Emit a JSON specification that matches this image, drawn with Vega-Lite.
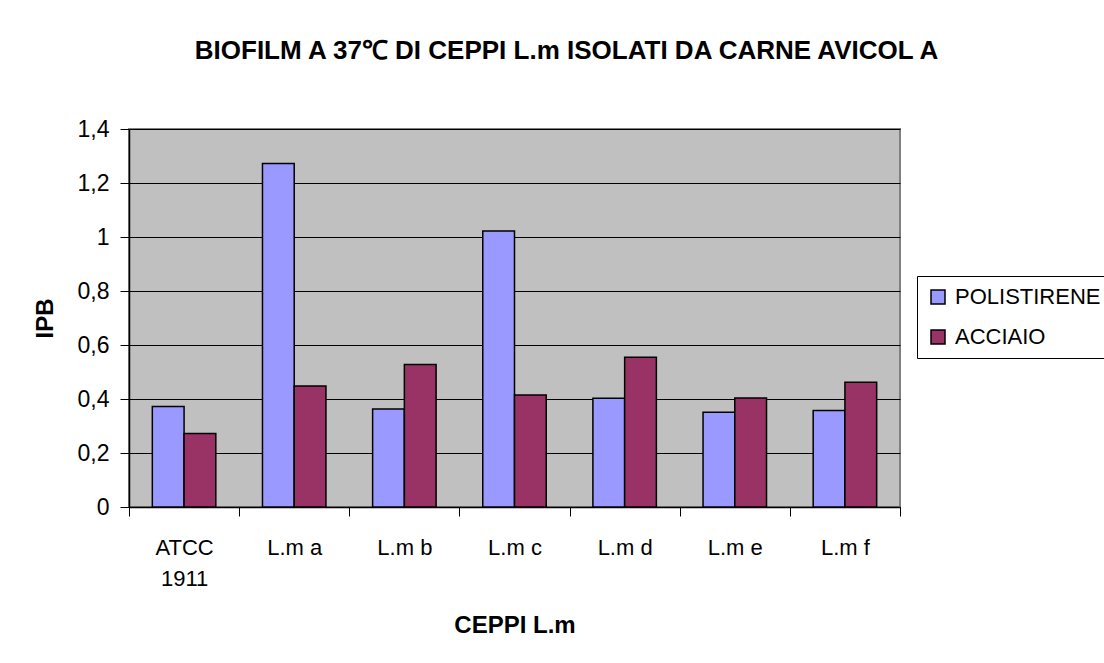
{
  "$schema": "https://vega.github.io/schema/vega-lite/v6.json",
  "width": 771,
  "height": 378,
  "autosize": {"type": "none"},
  "padding": {"left": 129, "top": 129, "right": 204, "bottom": 156},
  "background": "white",
  "title": {
    "text": "BIOFILM A 37℃ DI CEPPI L.m ISOLATI DA CARNE AVICOL A",
    "font": "Liberation Sans",
    "fontSize": 26,
    "fontWeight": "bold",
    "color": "black",
    "anchor": "middle",
    "dx": 52,
    "offset": 54
  },
  "data": {
    "values": [
      {"ceppo": "ATCC 1911", "serie": "POLISTIRENE", "ipb": 0.372},
      {"ceppo": "ATCC 1911", "serie": "ACCIAIO", "ipb": 0.272},
      {"ceppo": "L.m a", "serie": "POLISTIRENE", "ipb": 1.272},
      {"ceppo": "L.m a", "serie": "ACCIAIO", "ipb": 0.448},
      {"ceppo": "L.m b", "serie": "POLISTIRENE", "ipb": 0.363},
      {"ceppo": "L.m b", "serie": "ACCIAIO", "ipb": 0.528},
      {"ceppo": "L.m c", "serie": "POLISTIRENE", "ipb": 1.022},
      {"ceppo": "L.m c", "serie": "ACCIAIO", "ipb": 0.415},
      {"ceppo": "L.m d", "serie": "POLISTIRENE", "ipb": 0.403},
      {"ceppo": "L.m d", "serie": "ACCIAIO", "ipb": 0.555},
      {"ceppo": "L.m e", "serie": "POLISTIRENE", "ipb": 0.351},
      {"ceppo": "L.m e", "serie": "ACCIAIO", "ipb": 0.404},
      {"ceppo": "L.m f", "serie": "POLISTIRENE", "ipb": 0.357},
      {"ceppo": "L.m f", "serie": "ACCIAIO", "ipb": 0.462}
    ]
  },
  "mark": {"type": "bar", "stroke": "black", "strokeWidth": 1.5},
  "encoding": {
    "x": {
      "field": "ceppo",
      "type": "nominal",
      "sort": null,
      "scale": {"paddingInner": 0, "paddingOuter": 0},
      "axis": {
        "title": "CEPPI L.m",
        "titleFont": "Liberation Sans",
        "titleFontSize": 24,
        "titleFontWeight": "bold",
        "titleColor": "black",
        "titlePadding": 24,
        "labelAngle": 0,
        "labelFont": "Liberation Sans",
        "labelFontSize": 22,
        "labelColor": "black",
        "labelPadding": 21,
        "labelLineHeight": 31,
        "labelExpr": "datum.label == 'ATCC 1911' ? ['ATCC', '1911'] : datum.label",
        "tickBand": "extent",
        "tickSize": 9,
        "tickColor": "black",
        "tickWidth": 1,
        "domainColor": "black",
        "domainWidth": 1.5,
        "grid": false
      }
    },
    "xOffset": {
      "field": "serie",
      "type": "nominal",
      "sort": ["POLISTIRENE", "ACCIAIO"],
      "scale": {"paddingInner": 0, "paddingOuter": 0.735}
    },
    "y": {
      "field": "ipb",
      "type": "quantitative",
      "scale": {"domain": [0, 1.4], "nice": false},
      "axis": {
        "title": "IPB",
        "titleFont": "Liberation Sans",
        "titleFontSize": 24,
        "titleFontWeight": "bold",
        "titleColor": "black",
        "titlePadding": 20,
        "values": [0, 0.2, 0.4, 0.6, 0.8, 1, 1.2, 1.4],
        "labelExpr": "replace(format(datum.value, '.1~f'), '.', ',')",
        "labelFont": "Liberation Sans",
        "labelFontSize": 23,
        "labelColor": "black",
        "labelPadding": 11,
        "tickSize": 9,
        "tickColor": "black",
        "domainColor": "black",
        "domainWidth": 1.5,
        "grid": true,
        "gridColor": "black",
        "gridWidth": 1.2
      }
    },
    "color": {
      "field": "serie",
      "type": "nominal",
      "scale": {"domain": ["POLISTIRENE", "ACCIAIO"], "range": ["#9999FF", "#993366"]},
      "legend": {
        "title": null,
        "orient": "none",
        "legendX": 788,
        "legendY": 147,
        "strokeColor": "black",
        "fillColor": "white",
        "padding": 10,
        "symbolType": "square",
        "symbolSize": 196,
        "symbolStrokeColor": "black",
        "symbolStrokeWidth": 1.5,
        "labelFont": "Liberation Sans",
        "labelFontSize": 22,
        "labelColor": "black",
        "labelOffset": 6,
        "rowPadding": 18
      }
    }
  },
  "config": {
    "view": {"fill": "#C0C0C0", "stroke": "#808080", "strokeWidth": 2}
  }
}
